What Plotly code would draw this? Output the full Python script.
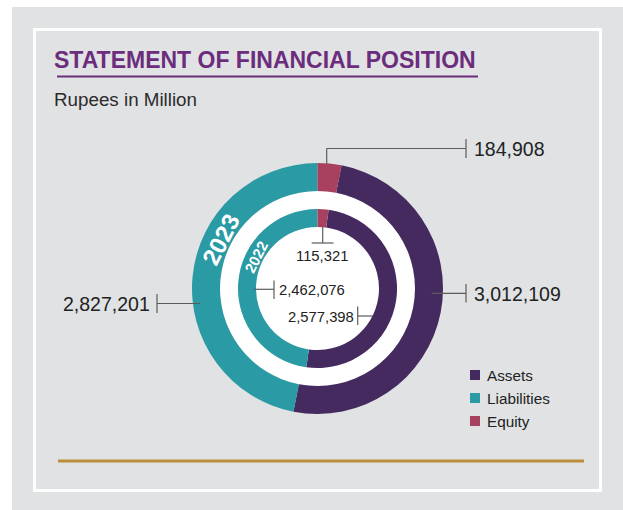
import plotly.graph_objects as go

# ---- data (Rupees in Million) ----
categories = ["Assets", "Liabilities", "Equity"]
values_2023 = [3012109, 2827201, 184908]
values_2022 = [2577398, 2462076, 115321]
colors = ["#452a5f", "#2a9aa5", "#a8405f"]
years = ["2023", "2022"]

W, H = 623, 510
FONT = "Liberation Sans, Arial, sans-serif"
TEXT = "#222222"
LEADER = "#5c5c5c"


def px(x):
    return x / W


def py(y):
    return 1 - y / H


# ring geometry (pixels)
CX, CY = 317.5, 288.5
R_OUT, R_OUT_IN = 125.5, 97.5
R_IN, R_IN_IN = 79.5, 61.5


def dom(r):
    return dict(x=[px(CX - r), px(CX + r)], y=[py(CY + r), py(CY - r)])


def rotation_for(vals):
    # Equity sits at 12 o'clock, Assets follow clockwise after it
    return vals[2] / sum(vals) * 360


fig = go.Figure()
for vals, r, r_in in [(values_2023, R_OUT, R_OUT_IN), (values_2022, R_IN, R_IN_IN)]:
    fig.add_trace(go.Pie(
        labels=categories, values=vals, hole=r_in / r, domain=dom(r),
        sort=False, direction="clockwise", rotation=rotation_for(vals),
        marker=dict(colors=colors, line=dict(width=0)),
        textinfo="none", hoverinfo="label+value", showlegend=False,
    ))

shapes = []


def seg(x0, y0, x1, y1, color=LEADER, width=1.2):
    shapes.append(dict(type="line", xref="paper", yref="paper",
                       x0=px(x0), y0=py(y0), x1=px(x1), y1=py(y1),
                       line=dict(color=color, width=width), layer="above"))


# panel background and white frame
shapes.append(dict(type="rect", xref="paper", yref="paper", layer="below",
                   x0=px(12), x1=px(623), y0=py(510), y1=py(7),
                   fillcolor="#e1e2e4", line=dict(width=0)))
shapes.append(dict(type="rect", xref="paper", yref="paper", layer="below",
                   x0=px(34.5), x1=px(600.5), y0=py(490.5), y1=py(29.5),
                   fillcolor="rgba(0,0,0,0)", line=dict(color="white", width=3)))
# white disc behind the rings
shapes.append(dict(type="circle", xref="paper", yref="paper", layer="below",
                   x0=px(CX - R_OUT_IN), x1=px(CX + R_OUT_IN),
                   y0=py(CY + R_OUT_IN), y1=py(CY - R_OUT_IN),
                   fillcolor="white", line=dict(width=0)))
# title underline and footer rule
seg(57, 76.5, 478, 76.5, color="#6b2d7c", width=2)
seg(58, 461, 584, 461, color="#b98e3c", width=3)

# leader lines
seg(326.7, 164, 326.7, 148.5); seg(326.7, 148.5, 466, 148.5); seg(466, 139, 466, 158)
seg(431.7, 293.3, 466, 293.3); seg(466, 284, 466, 302.5)
seg(200, 303.5, 157, 303.5); seg(157, 294, 157, 313)
seg(254, 289.3, 274, 289.3); seg(274, 280.5, 274, 299)
seg(373, 316, 357.7, 316); seg(357.7, 306.5, 357.7, 325)
seg(322.7, 227, 322.7, 243); seg(311.7, 243, 333.5, 243)

annotations = []


def label(text, x, y, size, xanchor="left", color=TEXT, **kw):
    annotations.append(dict(text=text, x=px(x), y=py(y), xref="paper", yref="paper",
                            xanchor=xanchor, yanchor="middle", showarrow=False,
                            borderpad=0, borderwidth=0,
                            font=dict(family=FONT, size=size, color=color), **kw))


label("<b>STATEMENT OF FINANCIAL POSITION</b>", 54, 60, 23, color="#6b2d7c")
label("Rupees in Million", 54, 100, 18.8, color="#2b2b2b")

# value labels
label(f"{values_2023[2]:,}", 474, 149, 19.5)
label(f"{values_2023[0]:,}", 474, 294, 19.5)
label(f"{values_2023[1]:,}", 150, 303.5, 19.5, xanchor="right")
label(f"{values_2022[1]:,}", 278.5, 289.5, 14.8)
label(f"{values_2022[0]:,}", 354, 316.5, 14.8, xanchor="right")
label(f"{values_2022[2]:,}", 322, 255.5, 14.8, xanchor="center")

# year labels along the liabilities arcs
label(f"<b>{years[0]}</b>", 220.7, 239.3, 24, xanchor="center", color="white", textangle=-63)
label(f"<b>{years[1]}</b>", 256, 257.7, 15, xanchor="center", color="white", textangle=-63)

# legend
for i, (name, col) in enumerate(zip(categories, colors)):
    yc = 375 + i * 23
    shapes.append(dict(type="rect", xref="paper", yref="paper", layer="above",
                       x0=px(470), x1=px(480), y0=py(yc + 5), y1=py(yc - 5),
                       fillcolor=col, line=dict(width=0)))
    label(name, 486.5, yc, 15.3)

fig.update_layout(
    width=W, height=H, margin=dict(l=0, r=0, t=0, b=0),
    paper_bgcolor="white", plot_bgcolor="white",
    shapes=shapes, annotations=annotations, showlegend=False,
)

fig.write_html("out.html")
